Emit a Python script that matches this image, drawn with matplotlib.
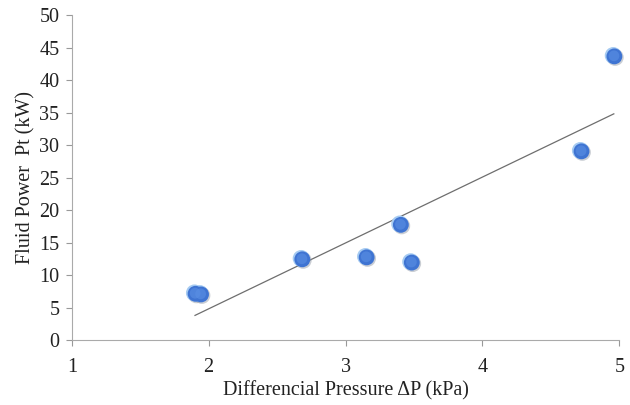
import numpy as np
import matplotlib
matplotlib.use("Agg")
import matplotlib.pyplot as plt
import matplotlib.transforms as mtransforms

dp_kpa = [1.90, 1.94, 2.68, 3.15, 3.40, 3.48, 4.72, 4.96]
power_kw = [7.2, 7.1, 12.5, 12.8, 17.8, 12.0, 29.1, 43.7]
x_ticks = [1, 2, 3, 4, 5]
y_ticks = [0, 5, 10, 15, 20, 25, 30, 35, 40, 45, 50]

plt.rcParams['font.family'] = ['Liberation Serif', 'DejaVu Serif']

fig = plt.figure(figsize=(6.3, 4.05), dpi=100)
ax = fig.add_axes([0.114, 0.160, 0.869, 0.803])

x = np.array(dp_kpa)
y = np.array(power_kw)

def off(dx, dy):
    return mtransforms.offset_copy(ax.transData, fig=fig, x=dx, y=dy, units='points')

# shadow, rim highlight, main sphere
ax.scatter(x, y, s=150, color='#8a93a0', alpha=0.45, edgecolors='none', transform=off(1.0, -1.0), zorder=2, clip_on=False)
ax.scatter(x, y, s=150, color='#a6cbf2', edgecolors='none', transform=off(-0.4, 0.3), zorder=3, clip_on=False)
ax.scatter(x, y, s=130, color='#3f74d2', edgecolors='none', transform=off(0.4, -0.3), zorder=4, clip_on=False)
ax.scatter(x, y, s=60, color='#5a8fe4', edgecolors='none', transform=off(0.1, 0.1), zorder=5, alpha=0.6, clip_on=False)

# linear trendline
m, b = np.polyfit(x, y, 1)
xl = np.array([x.min(), x.max()])
ax.plot(xl, m * xl + b, color='#6e6e6e', linewidth=0.9, zorder=1)

ax.set_xlim(1, 5)
ax.set_ylim(0, 50)
ax.set_xticks(x_ticks)
ax.set_yticks(y_ticks)
ax.tick_params(axis='both', labelsize=14.5, colors='#999999', labelcolor='#222222', direction='out', length=4)
ax.tick_params(axis='x', pad=9)
ax.tick_params(axis='y', pad=5)
for s in ['top', 'right']:
    ax.spines[s].set_visible(False)
for s in ['left', 'bottom']:
    ax.spines[s].set_color('#aaaaaa')
ax.set_xlabel('Differencial Pressure \u0394P (kPa)', fontsize=14.5, color='#222222', labelpad=3)
ax.set_ylabel('Fluid Power  Pt (kW)', fontsize=14.5, color='#222222', labelpad=3)

fig.savefig('out.png', dpi=100)
